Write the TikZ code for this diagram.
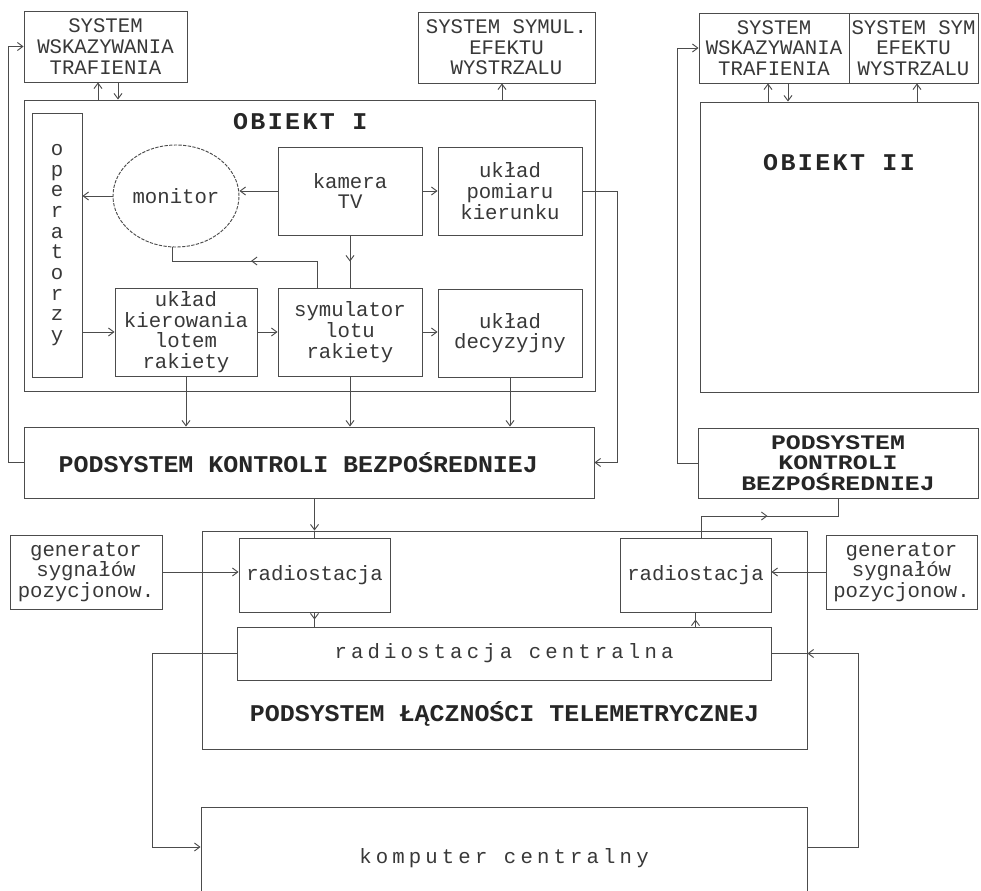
\documentclass[tikz,border=0pt]{standalone}
\usepackage{fontspec}
\newfontfamily\dm{Liberation Mono}
\newfontfamily\dmw[FakeStretch=1.2]{Liberation Mono}
\newfontfamily\dmb[FakeStretch=1.04]{Liberation Mono}
\newfontfamily\dmt[FakeStretch=1.04,LetterSpace=10]{Liberation Mono}
\newfontfamily\dms[LetterSpace=20]{Liberation Mono}
\usetikzlibrary{arrows.meta,shapes.geometric,decorations.markings}
\tikzset{
  ln/.style={draw=black!70, line width=0.7pt},
  box/.style={ln, rectangle, inner sep=0pt, align=center, text=black!78, font=\fontsize{15.5}{15.5}\dm},
  bigt/.style={text=black!85, font=\fontsize{15.5}{15.5}\dmw\bfseries},
  bigone/.style={text=black!85, font=\fontsize{18}{18}\dmb\bfseries},
  spc/.style={font=\fontsize{15.5}{15.5}\dms},
  ttl/.style={anchor=center, text=black!85, font=\fontsize{18}{18}\dmt\bfseries},
  ttlw/.style={anchor=center, text=black!85, font=\fontsize{18}{18}\dmb\bfseries},
  arr/.style={ln, -{Straight Barb[length=4pt,width=6pt]}},
  midarr/.style={ln, postaction=decorate, decoration={markings, mark=at position 0.5 with {\arrow{Straight Barb[length=4pt,width=6pt]}}}},
}
% #1 options, #2 name, #3 x1, #4 y1, #5 x2, #6 y2 (pixels), #7 text
\newcommand\bx[7]{\node[box,#1,minimum width={(#5-#3)*0.75pt},minimum height={(#6-#4)*0.75pt}] (#2) at ({(#3+#5)/2},{(#4+#6)/2}) {#7};}
\begin{document}
\begin{tikzpicture}[x=0.75pt,y=-0.75pt]
\useasboundingbox (0,0) rectangle (981,890);
% helper coordinates
\coordinate (xa) at (98,0); \coordinate (xb) at (118,0); \coordinate (xc) at (502,0);
\coordinate (xd) at (768,0); \coordinate (xe) at (788,0); \coordinate (xf) at (917,0);
\coordinate (fl) at (8,0); \coordinate (fr) at (677,0); \coordinate (xg) at (617,0);
\coordinate (xh) at (172,0); \coordinate (xi) at (317,0); \coordinate (yj) at (0,261);
\coordinate (xk) at (701,0); \coordinate (yk) at (0,516);
\coordinate (xl) at (152,0); \coordinate (xr) at (858,0); \coordinate (ym) at (0,847);
% nodes
\bx{}{swt1}{24}{11}{187}{82}{SYSTEM\\WSKAZYWANIA\\TRAFIENIA}
\bx{}{sse1}{418}{12}{595}{83}{SYSTEM SYMUL.\\EFEKTU\\WYSTRZALU}
\bx{label={[ttl,yshift=-16.5pt,xshift=-7pt]north:OBIEKT I}}{ob1}{24}{100}{595}{391}{}
\bx{}{op}{32}{113}{82}{377}{o\\p\\e\\r\\a\\t\\o\\r\\z\\y}
\node[box, ellipse, dash pattern=on 2.5pt off 1pt, minimum width=94.5pt, minimum height=76.5pt] (mon) at (176,196) {monitor};
\bx{}{cam}{278}{147}{422}{235}{kamera\\TV}
\bx{}{upk}{438}{147}{582}{235}{układ\\pomiaru\\kierunku}
\bx{}{ukl}{115}{288}{257}{376}{układ\\kierowania\\lotem\\rakiety}
\bx{}{sym}{278}{288}{422}{376}{symulator\\lotu\\rakiety}
\bx{}{dec}{438}{289}{582}{377}{układ\\decyzyjny}
\bx{bigone}{pk1}{24}{427}{594}{498}{PODSYSTEM KONTROLI BEZPOŚREDNIEJ\hspace*{16pt}}
\bx{}{swt2}{699}{13}{849}{83}{SYSTEM\\WSKAZYWANIA\\TRAFIENIA}
\bx{}{sse2}{849}{13}{978}{83}{SYSTEM SYM\\EFEKTU\\WYSTRZALU}
\bx{label={[ttl,yshift=-45.75pt]north:OBIEKT II}}{ob2}{700}{102}{978}{392}{}
\bx{bigt}{pk2}{698}{428}{978}{498}{PODSYSTEM\\KONTROLI\\BEZPOŚREDNIEJ}
\bx{label={[ttlw,yshift=27pt]south:PODSYSTEM ŁĄCZNOŚCI TELEMETRYCZNEJ}}{lacz}{202}{531}{807}{749}{}
\bx{}{genL}{10}{535}{162}{609}{generator\\sygnałów\\pozycjonow.}
\bx{}{radL}{239}{538}{390}{612}{radiostacja}
\bx{}{radR}{620}{538}{771}{612}{radiostacja}
\bx{}{genR}{826}{535}{977}{609}{generator\\sygnałów\\pozycjonow.}
\bx{spc}{rc}{237}{627}{771}{680}{radiostacja centralna}
\bx{spc}{komp}{201}{807}{807}{910}{komputer centralny}
% connectors
\draw[arr] (xa |- ob1.north) -- (xa |- swt1.south);
\draw[arr] (xb |- swt1.south) -- (xb |- ob1.north);
\draw[arr] (xc |- ob1.north) -- (xc |- sse1.south);
\draw[arr] (xd |- ob2.north) -- (xd |- swt2.south);
\draw[arr] (xe |- swt2.south) -- (xe |- ob2.north);
\draw[arr] (xf |- ob2.north) -- (xf |- sse2.south);
\draw[arr] (pk1.west) -- (fl |- pk1.west) -- (fl |- swt1.west) -- (swt1.west);
\draw[arr] (pk2.west) -- (fr |- pk2.west) -- (fr |- swt2.west) -- (swt2.west);
\draw[arr] (mon.west) -- (mon.west -| op.east);
\draw[arr] (cam.west) -- (cam.west -| mon.east);
\draw[arr] (cam.east) -- (upk.west);
\draw[arr] (upk.east) -- (xg |- upk.east) -- (xg |- pk1.east) -- (pk1.east);
\draw[midarr] (cam.south) -- (sym.north);
\draw[midarr] (xi |- sym.north) -- (xi |- yj) -- (xh |- yj) -- (xh |- mon.south);
\draw[arr] (op.east |- ukl.west) -- (ukl.west);
\draw[arr] (ukl.east) -- (sym.west);
\draw[arr] (sym.east) -- (sym.east -| dec.west);
\draw[arr] (ukl.south) -- (ukl.south |- pk1.north);
\draw[arr] (sym.south) -- (sym.south |- pk1.north);
\draw[arr] (dec.south) -- (dec.south |- pk1.north);
\draw[arr] (radL.north |- pk1.south) -- (radL.north |- lacz.north);
\draw[ln] (radL.north |- lacz.north) -- (radL.north);
\draw[arr] (genL.east) -- (genL.east -| radL.west);
\draw[arr] (genR.west) -- (genR.west -| radR.east);
\draw[midarr] (radL.south) -- (radL.south |- rc.north);
\draw[midarr] (radR.south |- rc.north) -- (radR.south);
\draw[midarr] (xk |- radR.north) -- (xk |- yk) -- (pk2.south |- yk) -- (pk2.south);
\draw[arr] (rc.west) -- (xl |- rc.west) -- (xl |- ym) -- (komp.west |- ym);
\draw[arr] (komp.east |- ym) -- (xr |- ym) -- (xr |- rc.east) -- (lacz.east |- rc.east);
\draw[ln] (lacz.east |- rc.east) -- (rc.east);
\end{tikzpicture}
\end{document}
